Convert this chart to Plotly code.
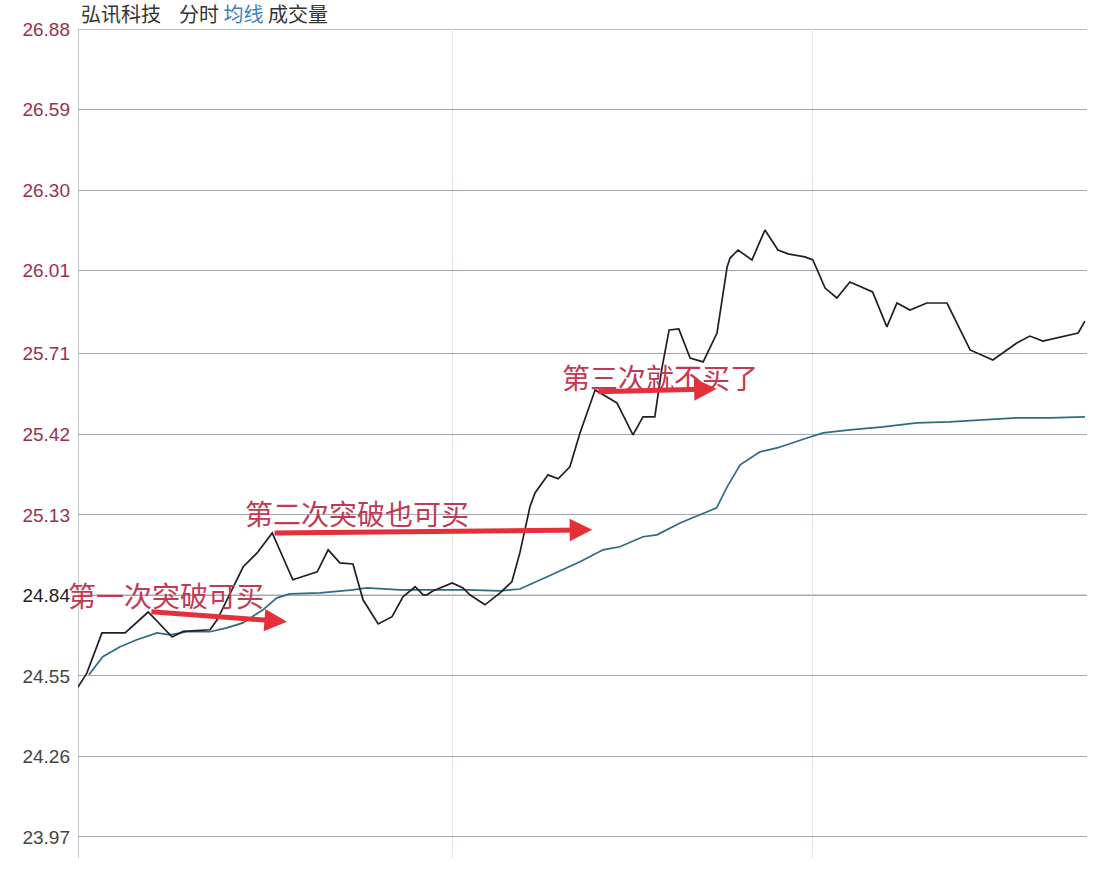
import plotly.graph_objects as go

# ---- data (t = minutes into session, 0..240) ----
price_t = [0, 2.1, 5.7, 11.2, 16.7, 22.4, 25.0, 31.4, 33.1, 39.3, 42.6, 46.2, 51.1, 56.9,
           59.5, 62.3, 65.4, 67.8, 71.4, 74.7, 77.3, 80.2, 82.1, 83.0, 84.4, 89.0, 91.6,
           93.2, 96.8, 100.4, 103.2, 105.1, 107.5, 108.7, 111.8, 114.2, 117.0, 119.4,
           123.0, 128.2, 132.0, 134.4, 137.2, 138.9, 140.6, 142.9, 145.6, 148.7, 152.0,
           154.4, 155.1, 157.0, 160.3, 163.4, 166.5, 168.9, 172.9, 174.8, 177.7, 180.5,
           183.6, 189.0, 192.4, 194.8, 197.9, 201.9, 206.7, 212.2, 217.6, 223.3, 226.4,
           229.5, 237.9, 239.5]
price_v = [24.51, 24.56, 24.705, 24.705, 24.78, 24.69, 24.71, 24.716, 24.752, 24.943,
           24.993, 25.065, 24.896, 24.925, 25.004, 24.957, 24.953, 24.824, 24.737, 24.763,
           24.835, 24.871, 24.842, 24.842, 24.856, 24.885, 24.867, 24.842, 24.806, 24.849,
           24.889, 24.993, 25.159, 25.209, 25.274, 25.26, 25.303, 25.425, 25.58, 25.533,
           25.418, 25.483, 25.483, 25.659, 25.796, 25.80, 25.695, 25.681, 25.785, 26.023,
           26.055, 26.084, 26.048, 26.156, 26.084, 26.07, 26.059, 26.048, 25.947, 25.911,
           25.969, 25.933, 25.807, 25.893, 25.868, 25.893, 25.893, 25.724, 25.688, 25.749,
           25.774, 25.756, 25.785, 25.828]

avg_t = [2.6, 5.9, 10.0, 14.0, 18.8, 21.9, 25.9, 31.4, 35.4, 39.2, 44.0, 47.3, 50.4,
         57.6, 65.4, 68.7, 76.6, 84.4, 92.5, 100.4, 105.1, 111.6, 119.4, 124.9, 128.9,
         134.4, 137.7, 143.2, 147.9, 151.9, 154.4, 157.5, 162.2, 166.3, 173.4, 177.2,
         183.6, 191.5, 199.5, 207.3, 215.2, 223.3, 231.2, 239.5]
avg_v = [24.554, 24.619, 24.655, 24.68, 24.705, 24.698, 24.709, 24.709, 24.723, 24.741,
         24.788, 24.831, 24.845, 24.849, 24.86, 24.867, 24.86, 24.86, 24.86, 24.856,
         24.863, 24.907, 24.961, 25.004, 25.015, 25.051, 25.058, 25.101, 25.13, 25.155,
         25.231, 25.31, 25.357, 25.371, 25.407, 25.425, 25.436, 25.447, 25.461, 25.465,
         25.472, 25.479, 25.479, 25.483]

tick_vals = [23.97, 24.26, 24.55, 24.84, 25.13, 25.42, 25.71, 26.01, 26.30, 26.59, 26.88]
tick_text = ["23.97", "24.26", "24.55", "24.84", "25.13", "25.42", "25.71", "26.01",
             "26.30", "26.59", "26.88"]
prev_close = 24.84
vgrid_t = [89.0, 174.6]

notes = ["第一次突破可买", "第二次突破也可买", "第三次就不买了"]
note_x = [21.0, 66.4, 138.4]
note_y = [24.842, 25.137, 25.627]
arrow_from_x = [17.1, 46.4, 123.4]
arrow_from_y = [24.781, 25.065, 25.573]
arrow_to_x = [49.7, 122.3, 151.9]
arrow_to_y = [24.745, 25.076, 25.584]

# ---- figure ----
def colored(lbl, v):
    if v > prev_close + 1e-9:
        c = "#9a3050"
    elif abs(v - prev_close) < 1e-9:
        c = "#222222"
    else:
        c = "#444444"
    return f"<span style='color:{c}'>{lbl}</span>"

fig = go.Figure()
fig.add_trace(go.Scatter(x=avg_t, y=avg_v, mode="lines",
                         line=dict(color="#2e6a80", width=1.7), hoverinfo="skip"))
fig.add_trace(go.Scatter(x=price_t, y=price_v, mode="lines",
                         line=dict(color="#231c28", width=1.7), hoverinfo="skip"))

for i, txt in enumerate(notes):
    fig.add_annotation(x=note_x[i], y=note_y[i], xref="x", yref="y", text=txt,
                       showarrow=False,
                       font=dict(family="Noto Sans CJK SC", size=28, color="#c23a52"))
    fig.add_annotation(x=arrow_to_x[i], y=arrow_to_y[i], xref="x", yref="y",
                       ax=arrow_from_x[i], ay=arrow_from_y[i], axref="x", ayref="y",
                       text="", showarrow=True, arrowhead=2, arrowsize=0.9,
                       arrowwidth=5, arrowcolor="#e5303a")

fig.add_annotation(
    x=0.0, y=1.0, xref="paper", yref="paper", xanchor="left", yanchor="middle",
    xshift=1, yshift=16,
    text=("弘讯科技&nbsp;&nbsp;&nbsp;&nbsp;分时&nbsp;"
          "<span style='color:#3b7fb8'>均线</span>&nbsp;成交量"),
    showarrow=False, font=dict(family="Noto Sans CJK SC", size=20, color="#333333"))

fig.add_hline(y=prev_close, line=dict(color="#5a5e66", width=1.2), layer="below")

fig.update_layout(
    width=1100, height=872,
    margin=dict(l=78, r=13, t=29, b=14, autoexpand=False),
    paper_bgcolor="white", plot_bgcolor="white",
    showlegend=False,
    xaxis=dict(range=[0, 240], tickvals=vgrid_t, showticklabels=False, ticks="",
               showgrid=True, gridcolor="#e3e7ee", gridwidth=1, zeroline=False,
               showline=False, automargin=False),
    yaxis=dict(range=[23.894, 26.88], tickvals=tick_vals,
               ticktext=[colored(l, v) for l, v in zip(tick_text, tick_vals)],
               ticks="", showgrid=True, gridcolor="#a4a8b0", gridwidth=1,
               zeroline=False, showline=False, automargin=False,
               tickfont=dict(family="Liberation Sans", size=19, color="#444444"),
               ticklabelstandoff=7),
)
fig.add_hline(y=26.88, line=dict(color="#a4a8b0", width=1.5), layer="below")
fig.add_vline(x=0, line=dict(color="#b4b8c0", width=1.5), layer="below")

fig.write_html("out.html", config={"displayModeBar": False},
               post_script="document.body.style.margin='0';document.body.style.padding='0';")
